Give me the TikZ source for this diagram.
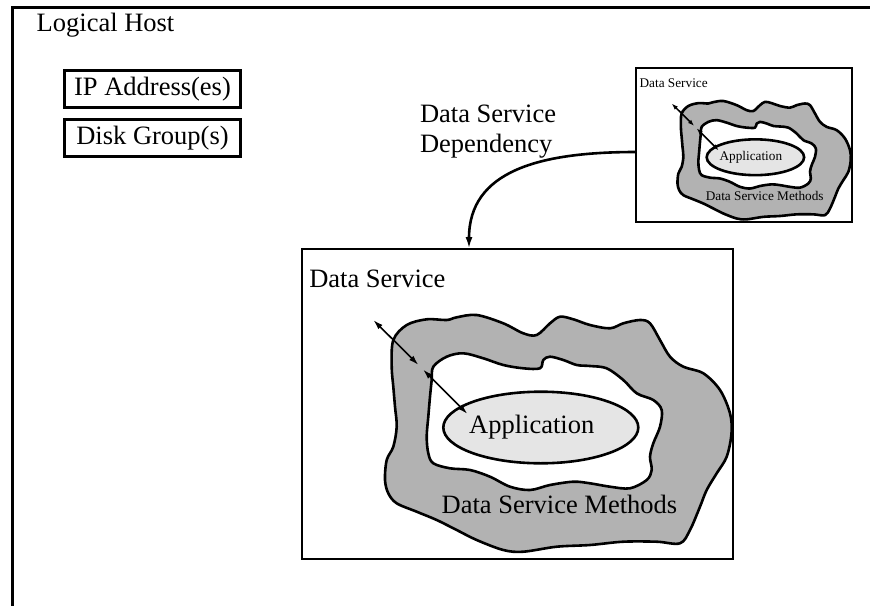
\documentclass[tikz,border=0pt]{standalone}
\usepackage{fontspec}
\setmainfont{Liberation Serif}
\usetikzlibrary{arrows.meta,shapes.geometric}
\definecolor{blobgray}{gray}{0.70}
\definecolor{appgray}{gray}{0.90}
\tikzset{
  framebox/.style={draw, line width=3.4pt, inner sep=0pt, outer sep=0pt},
  box/.style={draw, line width=2.9pt, inner sep=0pt, outer sep=0pt},
  lbl/.style={inner sep=0pt, outer sep=0pt, font=\fontsize{26.5}{30}\selectfont},
  blobline/.style={line width=2.6pt, line join=round},
  appshape/.style={ellipse, draw, line width=2.6pt, fill=appgray, minimum width=195pt, minimum height=71.6pt, inner sep=0pt},
  dsarrow/.style={line width=1.6pt, {Latex[length=10pt,width=6pt]}-{Latex[length=10pt,width=6pt]}},
  deparrow/.style={line width=2.6pt, -{Latex[length=12pt,width=7pt]}},
}
\newcommand{\svccontent}[1]{%
  \draw[blobline, fill=blobgray] plot[smooth cycle, tension=0.55] coordinates {
    (92.3,92) (105.7,77) (125.7,71.3) (145.7,72) (155.7,69.3) (175.7,67)
    (202.3,75.3) (222.3,85.3) (235.7,87) (249,75.3) (259,68.7) (272.3,71.3)
    (289,77) (309,80.3) (322.3,75.3) (339,72) (349,75.3) (359,92)
    (369,108.7) (382.3,118.7) (402.3,125.3) (419,142) (429,165.3) (430.5,185.3)
    (425.7,208.7) (415.7,225.3) (405.7,242) (399,258.7) (389,282) (379,295.3)
    (355.7,293.7) (322.3,293.7) (289,297) (255.7,298.7) (222.3,303.7) (202.3,302)
    (175.7,292) (155.7,282) (135.7,272) (115.7,263.7) (95.7,255.3) (87.3,245.3)
    (84,232) (85.7,212) (92.3,198.7) (95.7,178.7) (94,158.7) (92.3,138.7)
    (90.7,118.7)};
  \draw[blobline, fill=white] plot[smooth cycle, tension=0.55] coordinates {
    (132.3,118.7) (145.7,108.7) (162.3,105.3) (182.3,110.3) (202.3,117)
    (222.3,120.3) (239,120.3) (242.3,112) (249,108.7) (262.3,112) (275.7,117)
    (289,118) (305.7,120.3) (322.3,132) (335.7,145.3) (352.3,152) (360.7,162)
    (359,178.7) (352.3,195.3) (349,208.7) (350.7,222) (345.7,232) (329,240.3)
    (309,238.7) (289,235.3) (272.3,233.7) (249,237) (229,242) (209,238.7)
    (189,228.7) (169,222) (149,220.3) (132.3,215.3) (127.3,205.3) (125.7,188.7)
    (127.3,168.7) (129,148.7) (130.7,132)};
  \node[appshape] (#1app) at (239.8,179.5) {};
  \node[lbl, anchor=base] (#1apptext) at (230.7,185.3) {Application};
  \node[lbl, anchor=base west] (#1methods) at (140.7,265.3) {Data Service Methods};
  \node[lbl, anchor=base west] (#1service) at (8.3,39.3) {Data Service};
  \coordinate (#1p1) at (72.3,72);
  \coordinate (#1p2) at (117.5,117);
  \coordinate (#1p3) at (122,121.5);
  \coordinate (#1p4) at (166.5,166);
  \draw[dsarrow] (#1p1) -- (#1p2);
  \draw[dsarrow] (#1p3) -- (#1p4);
}
\begin{document}
\begin{tikzpicture}[x=1pt,y=-1pt]
  \useasboundingbox (0,0) rectangle (870,605);
  \clip (0,0) rectangle (870,605);
  \fill[white] (0,0) rectangle (870,605);
  % Logical host frame (right and bottom edges lie outside the picture)
  \node[framebox, anchor=north west, minimum width=900pt, minimum height=650pt] (host) at (12.7,7.5) {};
  \node[lbl, anchor=base west] (hosttitle) at (36.7,31) {Logical Host};
  \node[box, lbl, anchor=north west, minimum width=176pt, minimum height=37pt] (ip) at (64.5,70.5) {IP Address(es)};
  \node[box, lbl, anchor=north west, minimum width=176pt, minimum height=37pt] (disk) at (64.5,119.5) {Disk Group(s)};
  \node[lbl, anchor=north west, align=left] (dep) at (420,104.5) {Data Service\\Dependency};
  % Data service boxes
  \node[box, anchor=north west, minimum width=431pt, minimum height=310pt] (bigbox) at (302,249) {};
  \node[box, anchor=north west, minimum width=216pt, minimum height=154pt] (smallbox) at (636,68) {};
  \begin{scope}[shift={(301,248)}]
    \svccontent{big}
  \end{scope}
  \begin{scope}[shift={(635.5,67.5)}, scale=0.5, every node/.append style={transform shape},
      dsarrow/.style={line width=1.5pt, {Latex[length=6.5pt,width=4.5pt]}-{Latex[length=6.5pt,width=4.5pt]}}]
    \svccontent{small}
  \end{scope}
  \draw[deparrow] ([yshift=-7pt]smallbox.west) .. controls +(-97pt,0pt) and +(0pt,78pt) .. ([xshift=-48.5pt]bigbox.north);
\end{tikzpicture}
\end{document}
